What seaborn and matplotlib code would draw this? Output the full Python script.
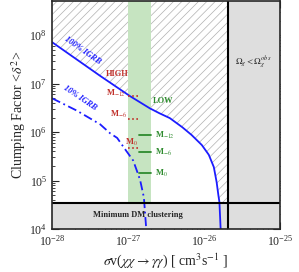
import matplotlib
matplotlib.use("Agg")
import matplotlib.pyplot as plt
import numpy as np
import pandas as pd
import seaborn as sns

# --- data ---
# 100% IGRB bound (solid)
sv_100 = [1.0e-28, 4.3e-28, 1.07e-27, 1.94e-27, 2.6e-27, 3.55e-27, 5.2e-27,
          6.9e-27, 9.4e-27, 1.16e-26, 1.35e-26, 1.47e-26, 1.55e-26, 1.6e-26, 1.66e-26]
delta_100 = [7.2e7, 1.45e7, 5.5e6, 3.1e6, 2.45e6, 1.95e6, 1.26e6,
             8.7e5, 5.4e5, 3.4e5, 1.9e5, 9.3e4, 5.0e4, 3.6e4, 1.0e4]
# 10% IGRB bound (dash-dot)
sv_10 = [1.0e-28, 2.1e-28, 4.3e-28, 5.8e-28, 7.2e-28, 9.1e-28, 1.17e-27,
         1.35e-27, 1.45e-27, 1.62e-27, 1.74e-27]
delta_10 = [5.0e6, 2.8e6, 1.45e6, 9.5e5, 7.6e5, 4.5e5, 2.6e5,
            1.4e5, 1.0e5, 4.5e4, 1.0e4]

sv_relic = 2.1e-26          # Omega_chi < Omega_obs boundary
delta_min = 3.5e4           # minimum DM clustering
band_sv = [1.0e-27, 2.0e-27]  # green band

high_labels = [r"M$_{-12}$", r"M$_{-6}$", r"M$_{0}$"]
high_delta = [5.5e6, 1.9e6, 4.7e5]
low_labels = [r"M$_{-12}$", r"M$_{-6}$", r"M$_{0}$"]
low_delta = [8.7e5, 3.9e5, 1.4e5]

xticks = [1e-28, 1e-27, 1e-26, 1e-25]
yticks = [1e4, 1e5, 1e6, 1e7, 1e8]

XLIM = (1e-28, 1e-25)
YLIM = (1e4, 5e8)

BLUE = "#1c1cff"
RED = "#c0302a"
GREEN = "#2e8b2e"

sns.set_theme(style="ticks")
plt.rcParams["font.family"] = ["Liberation Serif", "DejaVu Serif"]
plt.rcParams["mathtext.fontset"] = "stix"
plt.rcParams["hatch.color"] = "#b0b0b0"
plt.rcParams["hatch.linewidth"] = 0.5
plt.rcParams["xtick.direction"] = "in"
plt.rcParams["ytick.direction"] = "in"

fig, ax = plt.subplots(figsize=(2.99, 2.72), dpi=100)
fig.subplots_adjust(left=0.174, right=0.936, bottom=0.158, top=0.995)
ax.set_xscale("log")
ax.set_yscale("log")

# hatched excluded region above the 100% curve
hx = list(sv_100[:-1]) + [sv_relic, sv_relic, XLIM[0]]
hy = list(delta_100[:-1]) + [delta_min, YLIM[1], YLIM[1]]
ax.fill(hx, hy, facecolor="white", edgecolor="#b0b0b0", hatch="////",
        linewidth=0, zorder=1)

# green band
ax.axvspan(band_sv[0], band_sv[1], color="#c6e4c1", zorder=2, lw=0)

# gray regions
ax.axvspan(sv_relic, XLIM[1], color="#dedede", zorder=2.5, lw=0)
ax.axhspan(YLIM[0], delta_min, color="#dedede", zorder=2.5, lw=0)
ax.axvline(sv_relic, color="black", lw=1.5, zorder=4)
ax.axhline(delta_min, color="black", lw=1.5, zorder=4)

df100 = pd.DataFrame({"sv": sv_100, "delta": delta_100})
df10 = pd.DataFrame({"sv": sv_10, "delta": delta_10})
sns.lineplot(data=df100, x="sv", y="delta", color=BLUE, lw=1.3, sort=False,
             estimator=None, ax=ax, zorder=3)
sns.lineplot(data=df10, x="sv", y="delta", color=BLUE, lw=1.3, sort=False,
             estimator=None, ax=ax, zorder=3, linestyle=(0, (5, 2, 1, 2)))

# HIGH / LOW markers
for d in high_delta:
    ax.plot([1.0e-27, 1.38e-27], [d, d], color=RED, lw=1.2, ls=(0, (1, 1.5)), zorder=3)
ax.text(7.0e-28, 6.3e6, high_labels[0], color=RED, fontsize=6, fontweight="bold",
        ha="center", va="center")
ax.text(7.4e-28, 2.35e6, high_labels[1], color=RED, fontsize=6, fontweight="bold",
        ha="center", va="center")
ax.text(1.1e-27, 6.0e5, high_labels[2], color=RED, fontsize=6, fontweight="bold",
        ha="center", va="center")
ax.text(7.2e-28, 1.6e7, "HIGH", color=RED, fontsize=6, fontweight="bold",
        ha="center", va="center")

for lab, d in zip(low_labels, low_delta):
    ax.plot([1.38e-27, 2.0e-27], [d, d], color=GREEN, lw=1.3, zorder=3)
    ax.text(2.3e-27, d, lab, color=GREEN, fontsize=6, fontweight="bold",
            ha="left", va="center")
ax.text(2.9e-27, 4.3e6, "LOW", color=GREEN, fontsize=6, fontweight="bold",
        ha="center", va="center")

ax.text(2.5e-28, 4.9e7, "100% IGRB", color=BLUE, fontsize=6, fontweight="bold",
        style="italic", rotation=-35, ha="center", va="center")
ax.text(2.3e-28, 5.0e6, "10% IGRB", color=BLUE, fontsize=6, fontweight="bold",
        style="italic", rotation=-34, ha="center", va="center")

ax.text(4.4e-26, 2.8e7, r"$\Omega_\chi < \Omega_\chi^{obs}$", fontsize=6.5,
        ha="center", va="center", zorder=5)
ax.text(1.35e-27, 1.95e4, "Minimum DM clustering", fontsize=6, fontweight="bold",
        ha="center", va="center", zorder=5)

ax.set_xlim(*XLIM)
ax.set_ylim(*YLIM)
ax.set_xticks(xticks)
ax.set_yticks(yticks)
ax.tick_params(which="both", top=True, right=True, labelsize=8.5)
ax.tick_params(which="major", length=5, width=0.8)
ax.tick_params(which="minor", length=2.5, width=0.6)
for s in ax.spines.values():
    s.set_linewidth(1.2)
    s.set_zorder(6)

ax.set_xlabel(r"$\sigma$v($\chi\chi \rightarrow \gamma\gamma$) [ cm$^3$s$^{-1}$ ]",
              fontsize=10, labelpad=2)
ax.set_ylabel(r"Clumping Factor <$\delta^2$>", fontsize=10, labelpad=1)

fig.savefig("out.png", dpi=100)
